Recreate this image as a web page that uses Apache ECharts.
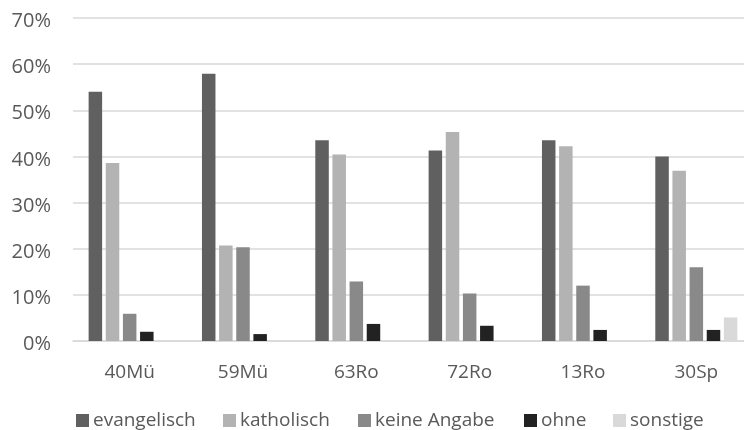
<!DOCTYPE html>
<html>
<head>
<meta charset="utf-8">
<script src="https://cdn.jsdelivr.net/npm/echarts@6/dist/echarts.min.js"></script>
<style>
  html, body { margin: 0; padding: 0; background: #ffffff; }
  #chart { width: 744px; height: 430px; }
</style>
</head>
<body>
<div id="chart"></div>
<script>
// Religionszugehörigkeit je Gruppe (Anteile in %)
const categories = ['40Mü', '59Mü', '63Ro', '72Ro', '13Ro', '30Sp'];
const seriesNames = ['evangelisch', 'katholisch', 'keine Angabe', 'ohne', 'sonstige'];
const evangelisch = [54.0, 57.9, 43.5, 41.3, 43.5, 40.0];
const katholisch = [38.6, 20.7, 40.4, 45.3, 42.2, 36.9];
const keineAngabe = [5.9, 20.3, 12.9, 10.3, 12.0, 16.0];
const ohne = [2.0, 1.5, 3.7, 3.3, 2.4, 2.4];
const sonstige = [0, 0, 0, 0, 0, 5.1];
const yTicks = [0, 10, 20, 30, 40, 50, 60, 70];

const values = [evangelisch, katholisch, keineAngabe, ohne, sonstige];
const colors = ['#606060', '#b3b3b3', '#898989', '#222222', '#d9d9d9'];
// left edge of each legend entry
const legendLeft = [76, 223, 358, 524, 613];

const chart = echarts.init(document.getElementById('chart'), null, { renderer: 'canvas' });

chart.setOption({
  animation: false,
  textStyle: { fontFamily: 'Open Sans', color: '#595959' },
  grid: { left: 73, width: 680, top: 18, bottom: 89, containLabel: false, outerBoundsMode: 'none' },
  legend: seriesNames.map((name, i) => ({
    data: [name],
    left: legendLeft[i],
    top: 411,
    padding: 0,
    icon: 'rect',
    itemWidth: 13,
    itemHeight: 13,
    textStyle: { fontFamily: 'Open Sans', fontSize: 19, color: '#595959', padding: [0, 0, 0, -1] }
  })),
  xAxis: {
    type: 'category',
    data: categories,
    axisLine: { show: true, lineStyle: { color: '#d9d9d9', width: 1.5 } },
    axisTick: { show: false },
    axisLabel: { fontSize: 19, color: '#595959', margin: 22 }
  },
  yAxis: {
    type: 'value',
    min: yTicks[0],
    max: yTicks[yTicks.length - 1],
    interval: 10,
    axisLine: { show: false },
    axisTick: { show: false },
    splitLine: { lineStyle: { color: '#d9d9d9', width: 1.5 } },
    axisLabel: {
      margin: 22,
      formatter: v => '{t|' + v + '%}',
      rich: { t: { fontSize: 20, color: '#595959', fontFamily: 'Open Sans', padding: [7, 0, 0, 0] } }
    }
  },
  series: seriesNames.map((name, i) => ({
    name: name,
    type: 'bar',
    data: values[i],
    barWidth: 13.5,
    barGap: '27%',
    itemStyle: { color: colors[i] }
  }))
});
</script>
</body>
</html>
